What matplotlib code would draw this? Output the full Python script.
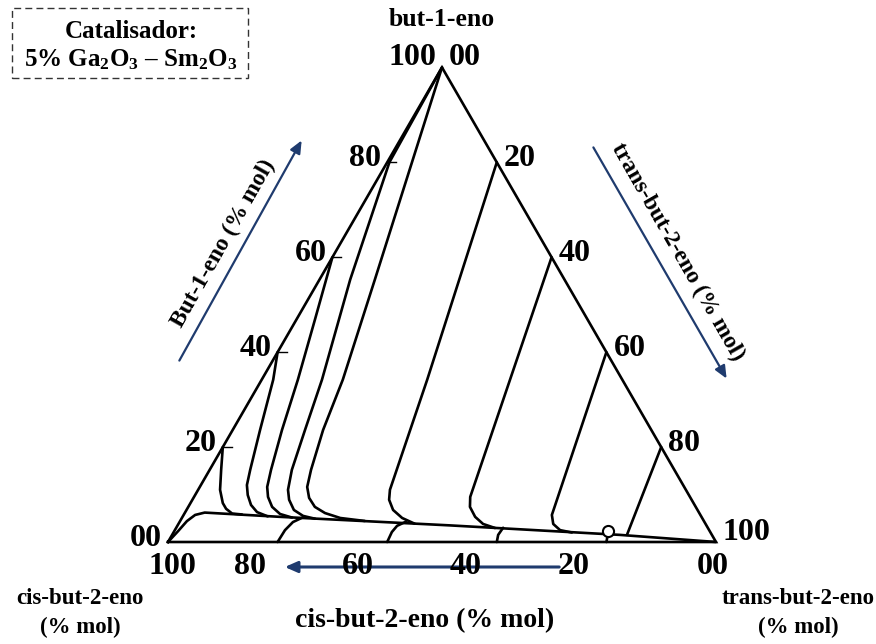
import numpy as np
import matplotlib
matplotlib.use("Agg")
import matplotlib.pyplot as plt
from matplotlib.patches import FancyArrowPatch, Rectangle

plt.rcParams['font.family'] = ['Liberation Serif', 'DejaVu Serif']
plt.rcParams['font.weight'] = 'bold'
plt.rcParams['mathtext.fontset'] = 'custom'
plt.rcParams['mathtext.rm'] = 'Liberation Serif:bold'
plt.rcParams['mathtext.bf'] = 'Liberation Serif:bold'
plt.rcParams['mathtext.default'] = 'rm'

# ---------------- data (mol %): but-1-eno (b1) and trans-but-2-eno (tr); cis = 100 - b1 - tr
tick_values = [0, 20, 40, 60, 80, 100]
left_tick_labels = ['00', '20', '40', '60', '80', '100']     # but-1-eno
right_tick_labels = ['00', '20', '40', '60', '80', '100']    # trans-but-2-eno
bottom_tick_labels = ['100', '80', '60', '40', '20', '00']   # cis-but-2-eno

# equilibrium line (starting at pure cis-but-2-eno)
eq_b1 = [0.0, 2.3, 4.4, 5.7, 6.2, 5.3, 3.5, 1.5, 0.0]
eq_tr = [0.0, 0.7, 1.25, 2.1, 3.6, 17.8, 49.7, 81.7, 100.0]

# trajectories from the but-1-eno / cis-but-2-eno edge
l20_b1 = [20.0, 15.2, 11.0, 8.2, 7.0, 6.0, 5.8]
l20_tr = [0.0, 2.1, 4.0, 5.9, 7.1, 8.7, 10.6]
l40_b1 = [40.0, 34.2, 23.6, 15.2, 12.0, 9.9, 7.8, 6.3, 5.4]
l40_tr = [0.0, 2.1, 5.0, 7.4, 8.4, 9.6, 11.25, 13.1, 15.5]
l60_b1 = [60.0, 46.8, 34.2, 23.6, 15.2, 11.6, 9.5, 7.4, 5.9, 5.15]
l60_tr = [0.0, 3.4, 6.6, 9.0, 11.2, 12.3, 13.5, 15.3, 17.5, 20.05]
l80_b1 = [100.0, 80.0, 55.3, 34.2, 23.6, 15.2, 11.0, 8.9, 6.75, 5.5, 4.9]
l80_tr = [0.0, 0.4, 5.6, 11.0, 13.2, 15.0, 16.4, 17.65, 19.6, 21.9, 24.4]
apex_b1 = [100.0, 55.3, 34.2, 23.6, 15.2, 11.6, 9.3, 7.4, 6.1, 5.06, 4.43]
apex_tr = [0.0, 10.1, 14.8, 16.5, 18.5, 19.6, 21.1, 23.1, 25.6, 28.9, 33.7]

# trajectories from the but-1-eno / trans-but-2-eno edge
r20_b1 = [80.0, 34.2, 11.0, 8.9, 6.75, 5.06, 3.85]
r20_tr = [20.0, 30.2, 35.0, 35.9, 37.7, 40.2, 43.1]
r40_b1 = [60.0, 9.5, 7.4, 5.3, 3.8, 2.95]
r40_tr = [40.0, 50.4, 51.4, 53.4, 55.6, 58.2]
r60_b1 = [40.0, 5.7, 3.8, 2.5, 2.0]
r60_tr = [60.0, 67.2, 68.4, 70.3, 72.7]
r80_b1 = [20.0, 1.5]
r80_tr = [80.0, 83.0]

# trajectories from the cis / trans edge
b80_b1 = [0.0, 2.5, 4.2, 5.1]
b80_tr = [20.0, 20.1, 20.7, 21.9]
b60_b1 = [0.0, 2.1, 3.4, 4.3]
b60_tr = [40.0, 39.8, 40.1, 41.3]
b40_b1 = [0.0, 1.5, 3.0]
b40_tr = [60.0, 59.5, 59.65]
b20_b1 = [0.0, 1.2]
b20_tr = [80.0, 79.6]
loop_b1 = [2.3]
loop_tr = [79.2]

# ---------------- helpers
S3 = np.sqrt(3) / 2
PX = 548.0  # pixels per unit side


def tern(b1, tr):
    b1 = np.asarray(b1, float) / 100.0
    tr = np.asarray(tr, float) / 100.0
    return tr + 0.5 * b1, b1 * S3


fig = plt.figure(figsize=(8.76, 6.44), dpi=100)
ax = fig.add_axes([0, 0, 1, 1])
ax.set_xlim(-168 / PX, (876 - 168) / PX)
ax.set_ylim(-(644 - 542) / PX, 542 / PX)
ax.axis('off')

LW = 1.9
# triangle
tx, ty = tern([0, 0, 100, 0], [0, 100, 0, 0])
ax.plot(tx, ty, color='black', lw=LW, solid_joinstyle='miter', zorder=3)

curves = [(eq_b1, eq_tr), (l20_b1, l20_tr), (l40_b1, l40_tr), (l60_b1, l60_tr),
          (l80_b1, l80_tr), (apex_b1, apex_tr), (r20_b1, r20_tr), (r40_b1, r40_tr),
          (r60_b1, r60_tr), (r80_b1, r80_tr), (b80_b1, b80_tr), (b60_b1, b60_tr),
          (b40_b1, b40_tr), (b20_b1, b20_tr)]
for b, t in curves:
    x, y = tern(b, t)
    ax.plot(x, y, color='black', lw=LW, solid_capstyle='round', solid_joinstyle='round', zorder=4)
lx, ly = tern(loop_b1, loop_tr)
ax.plot(lx, ly, 'o', ms=8, mfc='white', mec='black', mew=1.5, zorder=5)

# small tick marks on left edge
for v in tick_values[1:-1]:
    x, y = tern(v, 0)
    ax.plot([x, x + 9 / PX], [y, y], color='black', lw=1.0, zorder=4)

TFS = 23
# left labels (but-1-eno)
for v, lab in zip(tick_values, left_tick_labels):
    x, y = tern(v, 0)
    dy = -10 if v == 100 else -4
    ax.text(x - 6 / PX, y - dy / PX, lab, ha='right', va='center', fontsize=TFS, fontweight='bold')
# right labels (trans)
for v, lab in zip(tick_values, right_tick_labels):
    x, y = tern(100 - v, v)
    dy = -10 if v in (0, 100) else -4
    ax.text(x + 7 / PX, y - dy / PX, lab, ha='left', va='center', fontsize=TFS, fontweight='bold')
# bottom labels (cis)
bottom_dx = [4, -28, -29, -31, -33, -3]
for v, lab, dx in zip(tick_values, bottom_tick_labels, bottom_dx):
    x, y = tern(0, v)
    ax.text(x + dx / PX, y - 25 / PX, lab, ha='center', va='center', fontsize=TFS, fontweight='bold')

LFS = 17
ax.text(tern(100, 0)[0], 542 / PX - 20 / PX, 'but-1-eno', ha='center', va='center',
        fontsize=18.5, fontweight='bold')
ax.text(-88 / PX, -(613 - 542) / PX, 'cis-but-2-eno\n(% mol)', ha='center', va='center',
        fontsize=16.5, fontweight='bold', linespacing=1.5)
ax.text((798 - 168) / PX, -(613 - 542) / PX, 'trans-but-2-eno\n(% mol)', ha='center', va='center',
        fontsize=16.5, fontweight='bold', linespacing=1.5)

NAVY = '#1f3b6e'


def px(xp, yp):
    return (xp - 168) / PX, (542 - yp) / PX


def arrow(p0, p1, lw=1.6):
    a = FancyArrowPatch(px(*p0), px(*p1), arrowstyle='-|>,head_length=5,head_width=2.2',
                        color=NAVY, lw=lw, mutation_scale=1.5, zorder=2)
    ax.add_patch(a)


arrow((178, 363), (303, 138))
arrow((592, 145), (728, 381))
arrow((562, 567), (282, 567), lw=2.2)

ax.text(*px(223, 244), 'But-1-eno (% mol)', rotation=60.5, rotation_mode='anchor',
        ha='center', va='center', fontsize=LFS, fontweight='bold')
ax.text(*px(678, 252), 'trans-but-2-eno (% mol)', rotation=-60.2, rotation_mode='anchor',
        ha='center', va='center', fontsize=LFS, fontweight='bold')
ax.text(*px(425, 621), 'cis-but-2-eno (% mol)', ha='center', va='center',
        fontsize=20, fontweight='bold')

# catalyst box
x0, y0 = px(12, 78)
x1, y1 = px(248, 8)
ax.add_patch(Rectangle((x0, y0), x1 - x0, y1 - y0, fill=False, ls=(0, (5, 3)), lw=1.0,
                       ec='#333333', zorder=2))
ax.text(*px(131, 31), 'Catalisador:', ha='center', va='center', fontsize=18, fontweight='bold')
ax.text(*px(131, 60), r'5% Ga$_2$O$_3$ – Sm$_2$O$_3$', ha='center', va='center',
        fontsize=18, fontweight='bold')

fig.savefig('out.png', dpi=100)
